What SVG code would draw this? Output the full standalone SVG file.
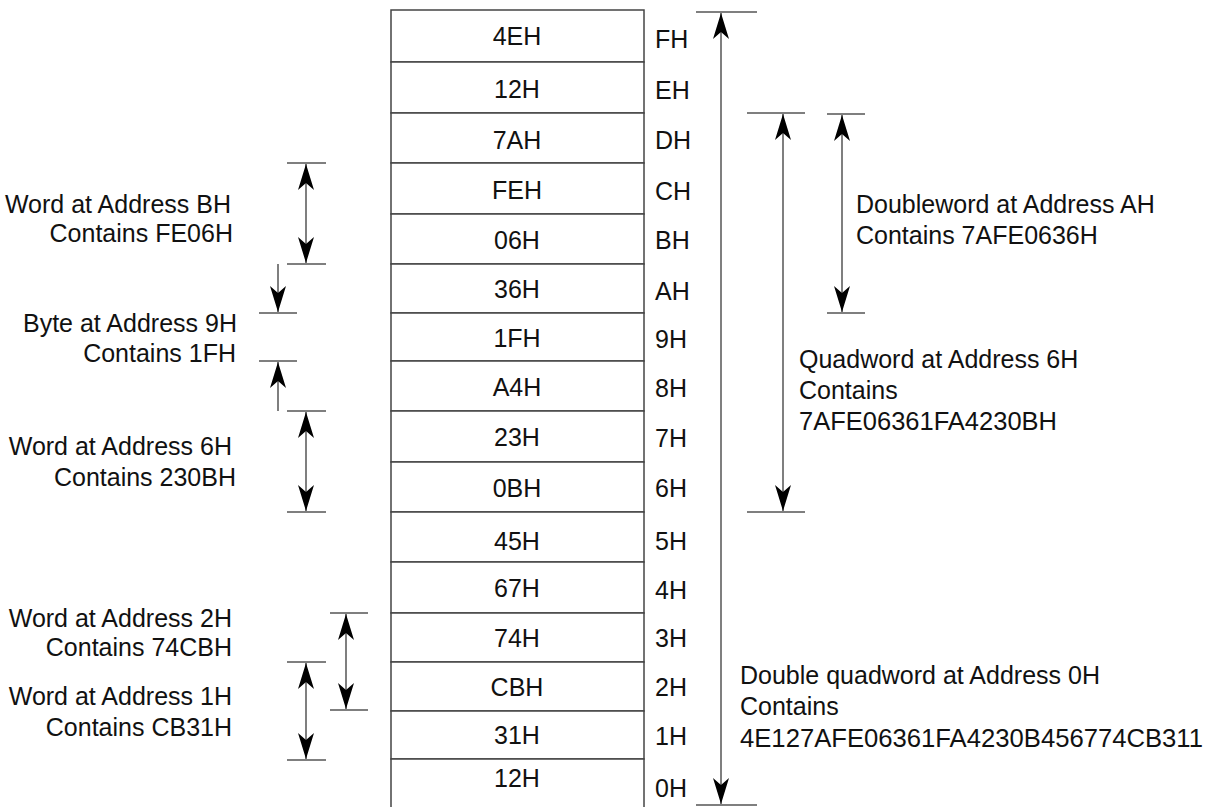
<svg xmlns="http://www.w3.org/2000/svg" width="1215" height="807" viewBox="0 0 1215 807">
<style>
.t{font-family:"Liberation Sans",Arial,sans-serif;font-size:25px;fill:#111}
.v{text-anchor:middle}
.e{text-anchor:end}
.cell{fill:#fff;stroke:#444;stroke-width:1.5}
.tick{stroke:#555;stroke-width:1.5}
.shaft{stroke:#555;stroke-width:1.5;fill:none}
.one{marker-end:url(#ah)}
.two{marker-start:url(#ah);marker-end:url(#ah)}
</style>
<defs>
<marker id="ah" markerUnits="userSpaceOnUse" viewBox="-28 -10 30 20" markerWidth="30" markerHeight="20" refX="0" refY="0" orient="auto-start-reverse">
<path d="M0,0 L-26,-8 L-19,0 L-26,8 Z" fill="#000"/>
</marker>
</defs>
<rect width="1215" height="807" fill="#fff"/>
<g id="memory">
<g id="row-F"><rect class="cell" x="391" y="10" width="253" height="52"/><text class="t v" x="517" y="45">4EH</text><text class="t" x="655" y="48">FH</text></g>
<g id="row-E"><rect class="cell" x="391" y="62" width="253" height="51"/><text class="t v" x="517" y="98">12H</text><text class="t" x="655" y="99">EH</text></g>
<g id="row-D"><rect class="cell" x="391" y="113" width="253" height="50"/><text class="t v" x="517" y="149">7AH</text><text class="t" x="655" y="149">DH</text></g>
<g id="row-C"><rect class="cell" x="391" y="163" width="253" height="51"/><text class="t v" x="517" y="199">FEH</text><text class="t" x="655" y="200">CH</text></g>
<g id="row-B"><rect class="cell" x="391" y="214" width="253" height="50"/><text class="t v" x="517" y="249">06H</text><text class="t" x="655" y="249">BH</text></g>
<g id="row-A"><rect class="cell" x="391" y="264" width="253" height="49"/><text class="t v" x="517" y="298">36H</text><text class="t" x="655" y="300">AH</text></g>
<g id="row-9"><rect class="cell" x="391" y="313" width="253" height="48"/><text class="t v" x="517" y="347">1FH</text><text class="t" x="655" y="348">9H</text></g>
<g id="row-8"><rect class="cell" x="391" y="361" width="253" height="50"/><text class="t v" x="517" y="396">A4H</text><text class="t" x="655" y="397">8H</text></g>
<g id="row-7"><rect class="cell" x="391" y="411" width="253" height="51"/><text class="t v" x="517" y="446">23H</text><text class="t" x="655" y="447">7H</text></g>
<g id="row-6"><rect class="cell" x="391" y="462" width="253" height="50"/><text class="t v" x="517" y="497">0BH</text><text class="t" x="655" y="497">6H</text></g>
<g id="row-5"><rect class="cell" x="391" y="512" width="253" height="50"/><text class="t v" x="517" y="550">45H</text><text class="t" x="655" y="550">5H</text></g>
<g id="row-4"><rect class="cell" x="391" y="562" width="253" height="51"/><text class="t v" x="517" y="597">67H</text><text class="t" x="655" y="599">4H</text></g>
<g id="row-3"><rect class="cell" x="391" y="613" width="253" height="49"/><text class="t v" x="517" y="647">74H</text><text class="t" x="655" y="647">3H</text></g>
<g id="row-2"><rect class="cell" x="391" y="662" width="253" height="49"/><text class="t v" x="517" y="696">CBH</text><text class="t" x="655" y="696">2H</text></g>
<g id="row-1"><rect class="cell" x="391" y="711" width="253" height="48"/><text class="t v" x="517" y="744">31H</text><text class="t" x="655" y="745">1H</text></g>
<g id="row-0"><rect class="cell" x="391" y="759" width="253" height="60"/><text class="t v" x="517" y="787">12H</text><text class="t" x="655" y="797">0H</text></g>
</g>
<g id="connectors">
<line class="tick" x1="696" y1="12" x2="757" y2="12"/>
<line class="tick" x1="696" y1="805" x2="757" y2="805"/>
<line class="shaft two" x1="721" y1="13" x2="721" y2="804"/>
<line class="tick" x1="747" y1="113" x2="805" y2="113"/>
<line class="tick" x1="747" y1="512" x2="805" y2="512"/>
<line class="shaft two" x1="783" y1="114" x2="783" y2="511"/>
<line class="tick" x1="827" y1="114" x2="865" y2="114"/>
<line class="tick" x1="827" y1="313" x2="865" y2="313"/>
<line class="shaft two" x1="842" y1="115" x2="842" y2="312"/>
<line class="tick" x1="287" y1="163" x2="326" y2="163"/>
<line class="tick" x1="287" y1="264" x2="326" y2="264"/>
<line class="shaft two" x1="306" y1="164" x2="306" y2="263"/>
<line class="tick" x1="259" y1="313" x2="297" y2="313"/>
<line class="shaft one" x1="278" y1="264" x2="278" y2="312"/>
<line class="tick" x1="259" y1="361" x2="297" y2="361"/>
<line class="shaft one" x1="278" y1="411" x2="278" y2="362"/>
<line class="tick" x1="287" y1="411" x2="326" y2="411"/>
<line class="tick" x1="287" y1="512" x2="326" y2="512"/>
<line class="shaft two" x1="306" y1="412" x2="306" y2="511"/>
<line class="tick" x1="330" y1="613" x2="368" y2="613"/>
<line class="tick" x1="330" y1="710" x2="368" y2="710"/>
<line class="shaft two" x1="346" y1="614" x2="346" y2="709"/>
<line class="tick" x1="287" y1="662" x2="326" y2="662"/>
<line class="tick" x1="287" y1="760" x2="326" y2="760"/>
<line class="shaft two" x1="306" y1="663" x2="306" y2="759"/>
</g>
<g id="label-word-B">
<text class="t e" x="231" y="213">Word at Address BH</text>
<text class="t e" x="233" y="242">Contains FE06H</text>
</g>
<g id="label-byte-9">
<text class="t e" x="237" y="332">Byte at Address 9H</text>
<text class="t e" x="236" y="362">Contains 1FH</text>
</g>
<g id="label-word-6">
<text class="t e" x="232" y="455">Word at Address 6H</text>
<text class="t e" x="236" y="486">Contains 230BH</text>
</g>
<g id="label-word-2">
<text class="t e" x="232" y="627">Word at Address 2H</text>
<text class="t e" x="232" y="656">Contains 74CBH</text>
</g>
<g id="label-word-1">
<text class="t e" x="232" y="705">Word at Address 1H</text>
<text class="t e" x="232" y="736">Contains CB31H</text>
</g>
<g id="label-dword-A">
<text class="t" x="856" y="213">Doubleword at Address AH</text>
<text class="t" x="856" y="244">Contains 7AFE0636H</text>
</g>
<g id="label-qword-6">
<text class="t" x="799" y="368">Quadword at Address 6H</text>
<text class="t" x="799" y="399">Contains</text>
<text class="t" x="799" y="430" textLength="258" lengthAdjust="spacingAndGlyphs">7AFE06361FA4230BH</text>
</g>
<g id="label-dqword-0">
<text class="t" x="740" y="684">Double quadword at Address 0H</text>
<text class="t" x="740" y="715">Contains</text>
<text class="t" x="740" y="747" textLength="463" lengthAdjust="spacingAndGlyphs">4E127AFE06361FA4230B456774CB311</text>
</g>
</svg>
